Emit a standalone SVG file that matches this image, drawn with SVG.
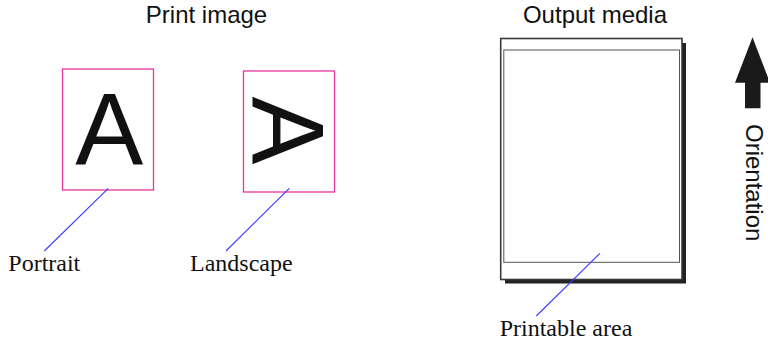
<svg xmlns="http://www.w3.org/2000/svg" width="768" height="345" viewBox="0 0 768 345">
<style>
.sans{font-family:"Liberation Sans",Arial,sans-serif;fill:#111}
.serif{font-family:"Liberation Serif","Times New Roman",serif;fill:#111;font-size:24px}
.frame{fill:#fff;stroke:#e8349c;stroke-width:1.3}
.lead{stroke:#3a3aff;stroke-width:1.1;fill:none}
</style>
<rect width="768" height="345" fill="#fff"/>
<text class="sans" x="206.5" y="23.3" font-size="24" text-anchor="middle">Print image</text>
<text class="sans" x="595" y="23.3" font-size="24" text-anchor="middle">Output media</text>
<g id="portrait">
<rect class="frame" x="62.5" y="69" width="91" height="121"/>
<text class="sans" x="109.2" y="165" font-size="102" text-anchor="middle">A</text>
</g>
<g id="landscape">
<rect class="frame" x="243.5" y="71" width="91" height="121"/>
<text class="sans" transform="translate(252,130.5) rotate(90)" font-size="102" text-anchor="middle">A</text>
</g>
<g id="media">
<rect x="505" y="43" width="181" height="240.5" fill="#222"/>
<rect x="500.7" y="38.5" width="181.3" height="241" fill="#fff" stroke="#3a3a3a" stroke-width="1.6"/>
<rect x="503.8" y="50" width="175.7" height="212.3" fill="#fff" stroke="#555" stroke-width="1"/>
</g>
<g id="orientation">
<polygon points="752.5,37.3 770,82.7 760.5,82.7 760.5,108.3 745,108.3 745,82.7 735,82.7" fill="#1a1a1a"/>
<text class="sans" transform="translate(745.8,124) rotate(90)" font-size="24">Orientation</text>
</g>
<g id="labels">
<text class="serif" x="8.3" y="270.7">Portrait</text>
<text class="serif" x="190" y="270.7">Landscape</text>
<text class="serif" x="499.7" y="335.7">Printable area</text>
</g>
<g id="connectors">
<line class="lead" x1="108.3" y1="188.3" x2="44.3" y2="251"/>
<line class="lead" x1="289.3" y1="188.3" x2="226" y2="251"/>
<line class="lead" x1="600" y1="253.3" x2="536.3" y2="316"/>
</g>
</svg>
